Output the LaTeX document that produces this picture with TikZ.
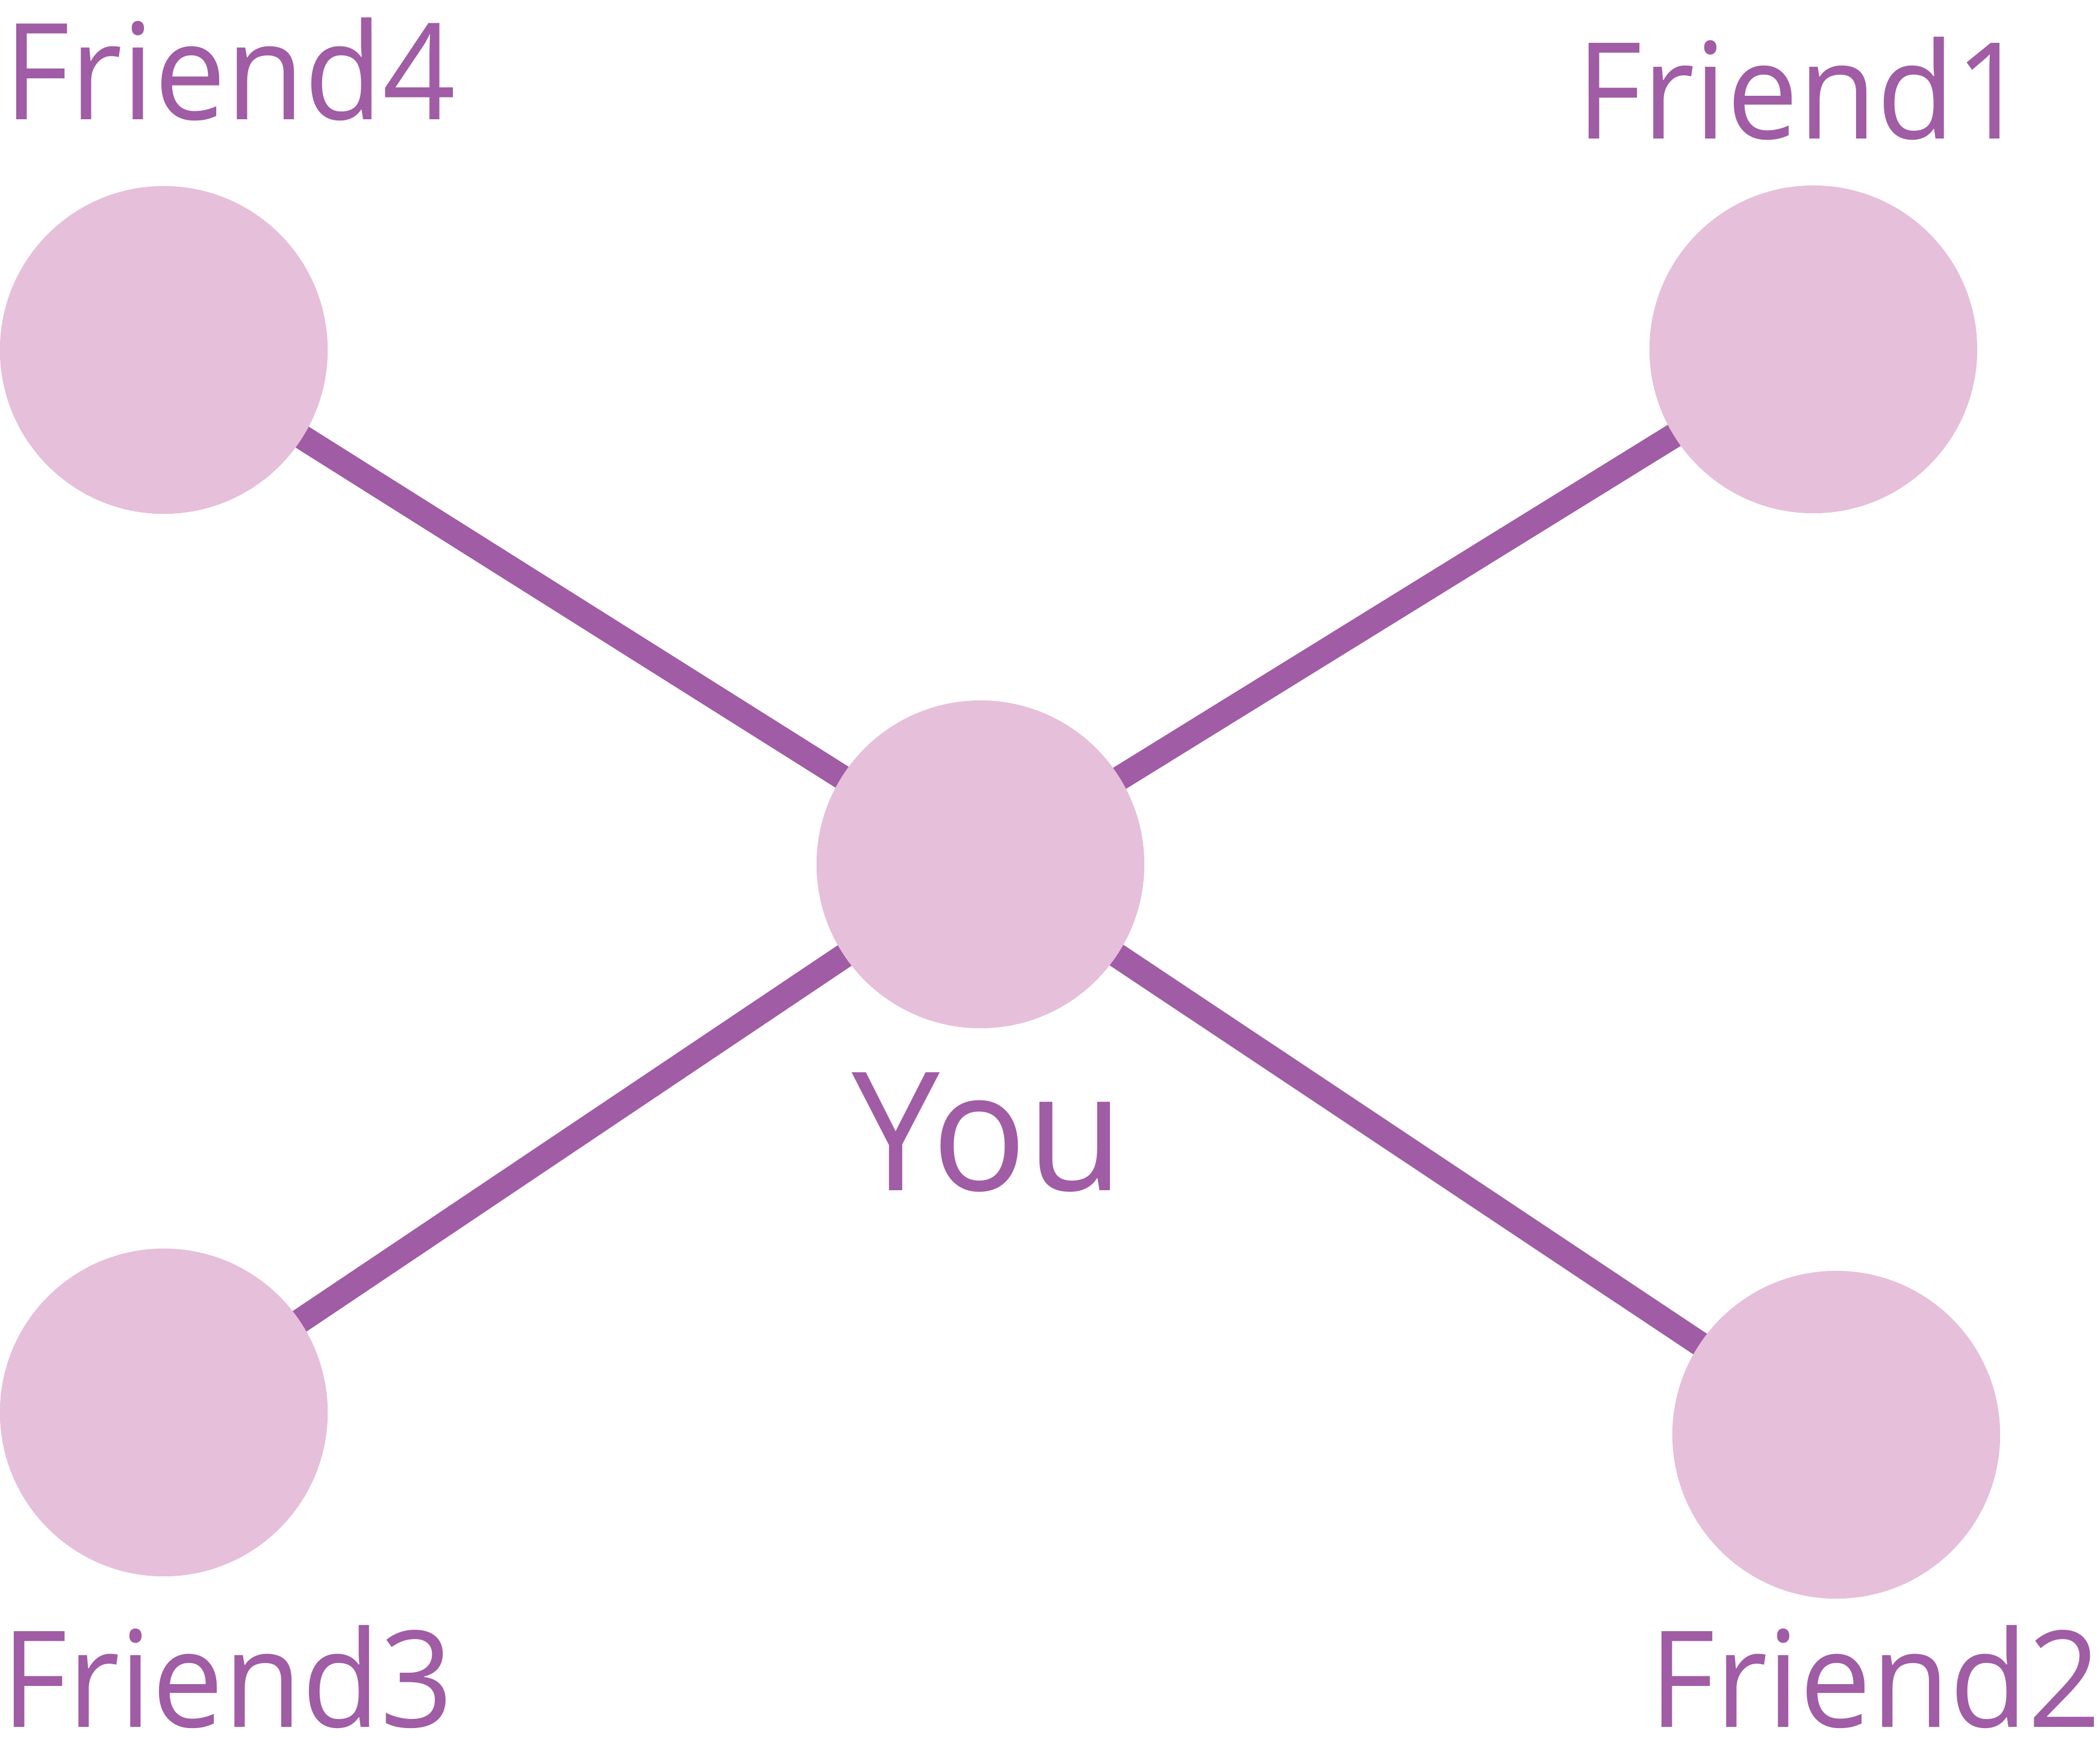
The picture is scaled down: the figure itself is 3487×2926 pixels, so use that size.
\documentclass[tikz,border=0pt]{standalone}
\usepackage{graphicx}
\usepackage{fontspec}
\setmainfont{Open Sans}
\usetikzlibrary{backgrounds}
\definecolor{linkpurple}{HTML}{A05CA4}
\definecolor{nodepink}{HTML}{E6BFDA}
\newcommand{\narrowtext}[1]{\scalebox{0.953}[1]{#1}}
\tikzset{
  person/.style={circle, fill=nodepink, draw=none, inner sep=0pt, minimum size=5.44cm},
  link/.style={draw=linkpurple, line width=0.41cm},
  flabel/.style={text=linkpurple, inner sep=0pt, anchor=base, font=\fontsize{63.3pt}{70pt}\selectfont},
  ylabel/.style={text=linkpurple, inner sep=0pt, anchor=base, font=\fontsize{78pt}{86pt}\selectfont}
}
\begin{document}
\begin{tikzpicture}[x=0.01cm, y=-0.01cm]
\useasboundingbox (0,0) rectangle (3487,2926);
\node[person] (you) at (1628,1435) {};
\node[person] (f1) at (3011,580) {};
\node[person] (f2) at (3049,2382) {};
\node[person] (f3) at (272,2345) {};
\node[person] (f4) at (272,581) {};
\begin{pgfonlayer}{background}
\draw[link] (you.center) -- (f1.center);
\draw[link] (you.center) -- (f2.center);
\draw[link] (you.center) -- (f3.center);
\draw[link] (you.center) -- (f4.center);
\end{pgfonlayer}
\node[flabel] (l4) at (382,198) {\narrowtext{Friend4}};
\node[flabel] (l1) at (2993,230) {\narrowtext{Friend1}};
\node[flabel] (l2) at (3114,2867) {\narrowtext{Friend2}};
\node[flabel] (l3) at (378,2867) {\narrowtext{Friend3}};
\node[ylabel] (ly) at (1640,1976) {\narrowtext{You}};
\end{tikzpicture}
\end{document}
